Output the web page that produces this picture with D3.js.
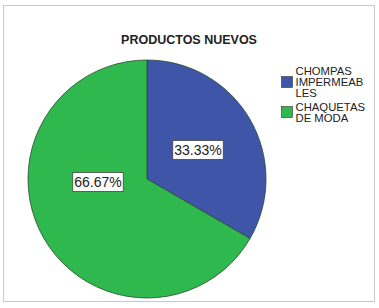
<!DOCTYPE html>
<html>
<head>
<meta charset="utf-8">
<script src="https://cdn.jsdelivr.net/npm/d3@7"></script>
<style>
  body { margin: 0; background: #fff; }
  text { font-family: "Liberation Sans", Arial, sans-serif; }
</style>
</head>
<body>
<div class="chart"></div>
<script>
// chart values
var categories = ["CHOMPAS IMPERMEABLES", "CHAQUETAS DE MODA"];
var values = [33.33, 66.67];
var labels = ["33.33%", "66.67%"];
var legendLines = [["CHOMPAS", "IMPERMEAB", "LES"], ["CHAQUETAS", "DE MODA"]];
var colors = ["#3f55a8", "#2eb84d"];

var svgWidth = 379;
var svgHeight = 308;

var svg = d3.select(".chart")
  .append("svg")
  .attr("width", svgWidth)
  .attr("height", svgHeight);

// outer frame
svg.append("rect")
  .attr("x", 3.5).attr("y", 5.5)
  .attr("width", 371).attr("height", 296)
  .attr("fill", "#fff")
  .attr("stroke", "#c8c8c8");

svg.append("text")
  .attr("x", 189).attr("y", 44)
  .attr("text-anchor", "middle")
  .style("font-size", "12.5px")
  .style("font-weight", "bold")
  .attr("fill", "#222")
  .text("PRODUCTOS NUEVOS");

var cx = 147, cy = 179, r = 119;

var pie = d3.pie().sort(null).value(function(d) { return d; });
var arc = d3.arc().innerRadius(0).outerRadius(r);
var arcs = pie(values);

var g = svg.append("g").attr("transform", "translate(" + cx + "," + cy + ")");

g.selectAll("path")
  .data(arcs)
  .enter()
  .append("path")
  .attr("d", arc)
  .attr("fill", function(d, i) { return colors[i]; })
  .attr("stroke", "#2a4a30")
  .attr("stroke-width", 0.8);

// value labels in boxes
var labelPos = [[51, -29], [-49, 3]];
arcs.forEach(function(d, i) {
  var p = labelPos[i];
  var lg = g.append("g").attr("transform", "translate(" + p[0] + "," + p[1] + ")");
  var t = lg.append("text")
    .attr("text-anchor", "middle")
    .attr("dy", "0.36em")
    .style("font-size", "14px")
    .attr("fill", "#222")
    .text(labels[i]);
  var bb = t.node().getBBox();
  lg.insert("rect", "text")
    .attr("x", bb.x - 1.5).attr("y", -9.5)
    .attr("width", bb.width + 3).attr("height", 19)
    .attr("fill", "#fff")
    .attr("stroke", "#444")
    .attr("stroke-width", 0.8);
});

// legend
var swatchY = [76, 106];
var firstBaseline = [75, 110.5];
var legend = svg.append("g");
categories.forEach(function(c, i) {
  legend.append("rect")
    .attr("x", 281.5).attr("y", swatchY[i] + 0.5)
    .attr("width", 11).attr("height", 11)
    .attr("fill", colors[i])
    .attr("stroke", "#333")
    .attr("stroke-width", 0.6);
  legendLines[i].forEach(function(l, j) {
    legend.append("text")
      .attr("x", 295.5)
      .attr("y", firstBaseline[i] + j * 11.2)
      .style("font-size", "11.3px")
      .attr("fill", "#222")
      .text(l);
  });
});
</script>
</body>
</html>
